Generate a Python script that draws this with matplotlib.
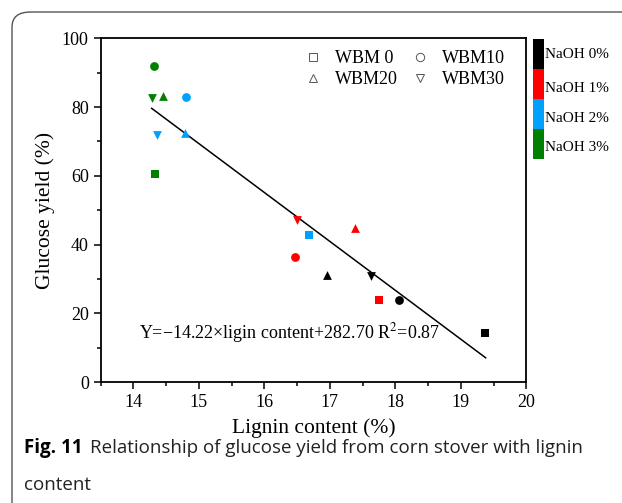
import matplotlib.pyplot as plt
from matplotlib.lines import Line2D
from matplotlib.patches import FancyBboxPatch
import numpy as np

plt.rcParams['font.family'] = ['Liberation Serif', 'DejaVu Serif']
plt.rcParams['mathtext.fontset'] = 'stix'

# Data: lignin content (%) and glucose yield (%) for each NaOH level / WBM group
groups = ['WBM 0', 'WBM10', 'WBM20', 'WBM30']
markers = ['s', 'o', '^', 'v']
naoh_labels = ['NaOH 0%', 'NaOH 1%', 'NaOH 2%', 'NaOH 3%']
naoh_colors = ['#000000', '#ff0000', '#00a0ff', '#008000']

# rows: NaOH 0..3 %, columns: WBM 0, 10, 20, 30
lignin = [
    [19.37, 18.06, 16.95, 17.63],
    [17.75, 16.47, 17.38, 16.50],
    [16.69, 14.81, 14.79, 14.36],
    [14.33, 14.31, 14.45, 14.28],
]
glucose = [
    [14.2, 24.0, 31.2, 30.9],
    [24.0, 36.5, 44.8, 47.1],
    [42.8, 83.0, 72.6, 71.9],
    [60.5, 91.9, 83.2, 82.6],
]

# fitted line
slope, intercept = -14.22, 282.70
fit_x = np.array([14.28, 19.38])

fig = plt.figure(figsize=(6.22, 5.03), dpi=100)

# outer panel frame (rounded, cut off at right and bottom)
frame = FancyBboxPatch((12 / 622, -0.2), 1.2, 1 - 12 / 503 + 0.2,
                       boxstyle='round,pad=0,rounding_size=0.03',
                       transform=fig.transFigure, fill=False,
                       edgecolor='#555555', linewidth=1.0, clip_on=False)
fig.patches.append(frame)

ax = fig.add_axes([0.1617, 0.2400, 0.6844, 0.6839])

for i in range(4):
    for j in range(4):
        ax.scatter(lignin[i][j], glucose[i][j], marker=markers[j],
                   color=naoh_colors[i], s=40, zorder=3, linewidths=0)

ax.plot(fit_x, slope * fit_x + intercept, color='black', linewidth=1.1)

ax.set_xlim(13.5, 20)
ax.set_ylim(0, 100)
ax.set_xticks([14, 15, 16, 17, 18, 19, 20])
ax.set_xticks(np.arange(13.5, 20, 0.5), minor=True)
ax.set_yticks([0, 20, 40, 60, 80, 100])
ax.set_yticks(np.arange(10, 100, 20), minor=True)
ax.tick_params(which='major', direction='out', length=5, width=1.1, labelsize=13)
ax.tick_params(which='minor', direction='out', length=3, width=1.1)
for s in ax.spines.values():
    s.set_linewidth(1.3)

ax.set_xlabel('Lignin content (%)', fontsize=15.5, labelpad=5)
ax.set_ylabel('Glucose yield (%)', fontsize=15.5, labelpad=5)

ax.text(14.09, 14.3, 'Y=\u221214.22\u00d7ligin content+282.70 R$^2$=0.87',
        fontsize=13, va='center', ha='left')

# legend: row 1 WBM 0 / WBM10, row 2 WBM20 / WBM30 (column-wise fill)
order = [0, 2, 1, 3]
handles = [Line2D([], [], linestyle='none', marker=markers[k], markerfacecolor='none',
                  markeredgecolor='#555555', markersize=6, markeredgewidth=0.7)
           for k in order]
ax.legend(handles, [groups[k] for k in order], ncol=2, loc='upper left',
          frameon=False, fontsize=13, handlelength=1.0, handletextpad=0.72,
          columnspacing=0.72, labelspacing=0.2, borderaxespad=0,
          bbox_to_anchor=(297 / 622, 1 - 43 / 503), bbox_transform=fig.transFigure)

# colour key for NaOH loading
cax = fig.add_axes([533 / 622, 1 - 159 / 503, 11 / 622, 120 / 503])
cax.imshow(np.arange(4).reshape(4, 1), cmap=plt.matplotlib.colors.ListedColormap(naoh_colors),
           aspect='auto', extent=(0, 1, 4, 0))
cax.set_xticks([])
cax.set_yticks([])
for s in cax.spines.values():
    s.set_visible(False)
label_y = [55, 88, 118, 147]
for lab, yy in zip(naoh_labels, label_y):
    fig.text(545 / 622, 1 - yy / 503, lab, fontsize=11, va='center', ha='left')

# caption
fig.text(24 / 622, 1 - 448 / 503, 'Fig. 11', fontsize=13.5, fontweight='bold',
         family='Open Sans', va='center', ha='left')
fig.text(90 / 622, 1 - 448 / 503,
         'Relationship of glucose yield from corn stover with lignin',
         fontsize=13.5, family='Open Sans', va='center', ha='left', color='#222222')
fig.text(24 / 622, 1 - 485 / 503, 'content', fontsize=13.5, family='Open Sans',
         va='center', ha='left', color='#222222')

fig.savefig('out.png', dpi=100)
